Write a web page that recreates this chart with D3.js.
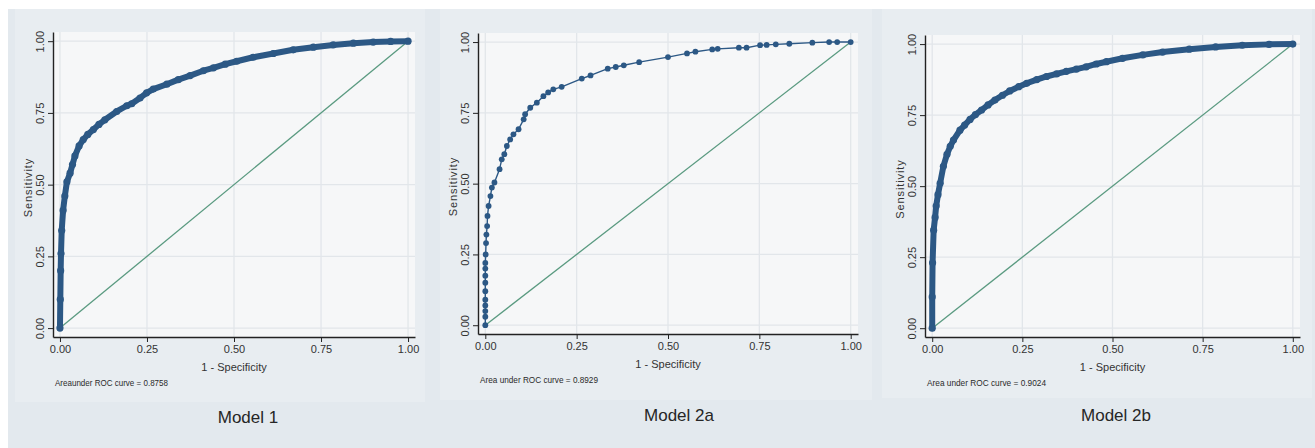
<!DOCTYPE html>
<html>
<head>
<meta charset="utf-8">
<script src="https://cdn.jsdelivr.net/npm/d3@7"></script>
<style>
  body { margin: 0; background: #fff; }
  svg { display: block; font-family: "Liberation Sans", Arial, sans-serif; }
</style>
</head>
<body>
<div id="app"></div>
<script>
const WIDTH = 1315
const HEIGHT = 448

// ROC points: [1 - specificity, sensitivity]
const model1 = [[0,0],[0.001,0.10],[0.002,0.20],[0.003,0.26],[0.005,0.34],[0.009,0.41],[0.014,0.46],[0.020,0.51],
  [0.029,0.54],[0.036,0.57],[0.043,0.60],[0.055,0.635],[0.067,0.657],[0.080,0.675],[0.096,0.692],[0.112,0.71],
  [0.129,0.726],[0.163,0.755],[0.192,0.775],[0.206,0.782],[0.230,0.802],[0.249,0.82],[0.268,0.833],[0.307,0.85],
  [0.340,0.866],[0.374,0.88],[0.412,0.897],[0.441,0.907],[0.475,0.92],[0.508,0.93],[0.555,0.944],[0.613,0.957],
  [0.670,0.97],[0.728,0.979],[0.785,0.987],[0.843,0.993],[0.900,0.997],[0.950,0.999],[1,1]]

const model2a = [[0,0],[0,0.03],[0,0.05],[0,0.07],[0,0.09],[0,0.12],[0,0.15],[0,0.175],[0,0.2],[0,0.22],
  [0.001,0.25],[0.002,0.29],[0.003,0.32],[0.005,0.35],[0.006,0.386],[0.009,0.421],[0.014,0.456],[0.018,0.486],
  [0.025,0.504],[0.039,0.551],[0.045,0.586],[0.052,0.604],[0.059,0.633],[0.068,0.656],[0.077,0.674],[0.091,0.692],
  [0.105,0.727],[0.109,0.745],[0.123,0.768],[0.141,0.786],[0.159,0.809],[0.172,0.822],[0.186,0.833],[0.209,0.842],
  [0.264,0.871],[0.288,0.882],[0.335,0.906],[0.357,0.912],[0.379,0.918],[0.421,0.929],[0.500,0.947],[0.552,0.960],
  [0.575,0.966],[0.621,0.974],[0.636,0.976],[0.694,0.980],[0.715,0.980],[0.752,0.989],[0.770,0.990],[0.795,0.992],
  [0.832,0.994],[0.895,0.998],[0.941,1.0],[0.963,1.0],[1,1]]

const model2b = [[0,0],[0,0.11],[0.001,0.23],[0.004,0.345],[0.008,0.39],[0.011,0.43],[0.016,0.47],[0.022,0.51],
  [0.031,0.57],[0.041,0.612],[0.050,0.64],[0.059,0.662],[0.077,0.697],[0.090,0.715],[0.105,0.735],[0.120,0.752],
  [0.137,0.768],[0.155,0.786],[0.174,0.803],[0.195,0.82],[0.215,0.835],[0.240,0.85],[0.262,0.862],[0.290,0.875],
  [0.317,0.886],[0.345,0.895],[0.372,0.904],[0.400,0.912],[0.427,0.92],[0.455,0.93],[0.483,0.938],[0.528,0.95],
  [0.584,0.962],[0.639,0.972],[0.713,0.982],[0.786,0.99],[0.860,0.996],[0.934,0.999],[1,1]]

const titles = ['Model 1', 'Model 2a', 'Model 2b']
const aucLabels = ['Areaunder ROC curve = 0.8758', 'Area under ROC curve = 0.8929', 'Area under ROC curve = 0.9024']
const tickValues = [0, 0.25, 0.5, 0.75, 1]

// placement of each graph on the page
const layout = [
  { box: [15, 9, 425, 402], left: 53, right: 415, top: 32, bottom: 337, titleX: 248, titleY: 423, aucW: 113, dense: true },
  { box: [440, 9, 872, 400], left: 478, right: 858, top: 33, bottom: 334, titleX: 679, titleY: 421, aucW: 118, dense: false },
  { box: [882, 9, 1312, 398], left: 925, right: 1300, top: 35, bottom: 337, titleX: 1116, titleY: 421, aucW: 119, dense: true }
]
const series = [model1, model2a, model2b]

const CURVE = '#2c5885'
const DIAG = '#5a9a80'
const TEXT = '#333'

const svg = d3.select('#app').append('svg')
  .attr('width', WIDTH)
  .attr('height', HEIGHT)

svg.append('rect')
  .attr('x', 8).attr('y', 9)
  .attr('width', WIDTH - 8).attr('height', HEIGHT - 9)
  .attr('fill', '#e3e9ee')

layout.forEach((L, i) => {
  const g = svg.append('g')

  g.append('rect')
    .attr('x', L.box[0]).attr('y', L.box[1])
    .attr('width', L.box[2] - L.box[0]).attr('height', L.box[3] - L.box[1])
    .attr('fill', '#e8edf1')

  const x = d3.scaleLinear().domain([-0.02, 1.02]).range([L.left, L.right])
  const y = d3.scaleLinear().domain([-0.031, 1.032]).range([L.bottom, L.top])

  g.append('rect')
    .attr('x', L.left).attr('y', L.top)
    .attr('width', L.right - L.left).attr('height', L.bottom - L.top)
    .attr('fill', '#f6f7f8')

  // grid
  g.append('g').selectAll('line.gx')
    .data(tickValues)
    .enter()
  .append('line')
    .attr('x1', d => x(d)).attr('x2', d => x(d))
    .attr('y1', L.top).attr('y2', L.bottom)
    .attr('stroke', '#e2e6ea')
    .attr('stroke-width', 1.3)

  g.append('g').selectAll('line.gy')
    .data(tickValues)
    .enter()
  .append('line')
    .attr('y1', d => y(d)).attr('y2', d => y(d))
    .attr('x1', L.left).attr('x2', L.right)
    .attr('stroke', '#e2e6ea')
    .attr('stroke-width', 1.3)

  // axes
  const xAxis = g.append('g')
    .attr('transform', `translate(0, ${L.bottom})`)
    .call(d3.axisBottom(x).tickValues(tickValues).tickFormat(d3.format('.2f')).tickSize(5).tickSizeOuter(0))
  xAxis.select('.domain').attr('stroke', '#222').attr('stroke-width', 1.4)
  xAxis.selectAll('.tick line').attr('stroke', '#222')
  xAxis.selectAll('text')
    .attr('y', 8).attr('dy', '0.71em')
    .attr('fill', TEXT).style('font-size', '11px')

  const yAxis = g.append('g')
    .attr('transform', `translate(${L.left}, 0)`)
    .call(d3.axisLeft(y).tickValues(tickValues).tickFormat(d3.format('.2f')).tickSize(5).tickSizeOuter(0))
  yAxis.select('.domain').attr('stroke', '#222').attr('stroke-width', 1.4)
  yAxis.selectAll('.tick line').attr('stroke', '#222')
  yAxis.selectAll('text')
    .attr('transform', 'rotate(-90)')
    .attr('x', 0).attr('y', -9).attr('dy', 0)
    .attr('text-anchor', 'middle')
    .attr('fill', TEXT).style('font-size', '11px')

  const midX = (L.left + L.right) / 2
  const midY = (L.top + L.bottom) / 2

  g.append('text')
    .attr('transform', `translate(${L.left - 21}, ${midY + 3}) rotate(-90)`)
    .attr('text-anchor', 'middle')
    .attr('fill', TEXT)
    .style('font-size', '11px')
    .style('letter-spacing', '0.9px')
    .text('Sensitivity')

  g.append('text')
    .attr('x', midX).attr('y', L.bottom + 34)
    .attr('text-anchor', 'middle')
    .attr('fill', TEXT)
    .style('font-size', '11px')
    .text('1 - Specificity')

  g.append('text')
    .attr('x', L.left + 2).attr('y', L.bottom + 49)
    .attr('fill', '#2a2a2a')
    .attr('textLength', L.aucW)
    .attr('lengthAdjust', 'spacingAndGlyphs')
    .style('font-size', '8.5px')
    .text(aucLabels[i])

  g.append('text')
    .attr('x', L.titleX).attr('y', L.titleY)
    .attr('text-anchor', 'middle')
    .attr('fill', '#262626')
    .style('font-size', '17px')
    .text(titles[i])

  // reference line
  g.append('line')
    .attr('x1', x(0)).attr('y1', y(0))
    .attr('x2', x(1)).attr('y2', y(1))
    .attr('stroke', DIAG)
    .attr('stroke-width', 1.3)

  const line = d3.line().x(d => x(d[0])).y(d => y(d[1]))

  g.append('path')
    .datum(series[i])
    .attr('d', line)
    .attr('fill', 'none')
    .attr('stroke', CURVE)
    .attr('stroke-width', L.dense ? 6 : 1.4)
    .attr('stroke-linejoin', 'round')
    .attr('stroke-linecap', 'round')

  g.append('g').selectAll('circle')
    .data(series[i])
    .enter()
  .append('circle')
    .attr('cx', d => x(d[0]))
    .attr('cy', d => y(d[1]))
    .attr('r', L.dense ? 3.6 : 2.9)
    .attr('fill', CURVE)
})
</script>
</body>
</html>
